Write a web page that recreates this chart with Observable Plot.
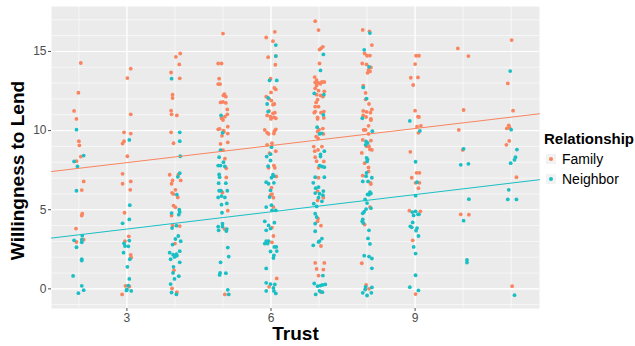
<!DOCTYPE html>
<html><head><meta charset="utf-8">
<script src="https://cdn.jsdelivr.net/npm/d3@7"></script>
<script src="https://cdn.jsdelivr.net/npm/@observablehq/plot@0.6"></script>
<style>
body{margin:0;background:#fff;}
#wrap{position:relative;width:635px;height:346px;font-family:"Liberation Sans",Arial,sans-serif;}
.leg{position:absolute;color:#000;white-space:nowrap;line-height:1;}
.key{position:absolute;width:10px;height:10px;background:#F2F2F2;}
.kdot{position:absolute;width:4px;height:4px;border-radius:50%;left:3px;top:3px;}
</style></head><body><div id="wrap"></div>
<script>
const groups = ["Family", "Neighbor"];
const groupColors = ["#F9845F", "#19BFC4"];
const legendTitle = "Relationship";
const xTitle = "Trust";
const yTitle = "Willingness to Lend";
const xTicks = [3, 6, 9];
const yTicks = [0, 5, 10, 15];
const xGrid = [2, 3, 4, 5, 6, 7, 8, 9, 10, 11];
const yGrid = [-1, 0, 1, 2, 3, 4, 5, 6, 7, 8, 9, 10, 11, 12, 13, 14, 15, 16, 17];
const xDomain = [1.43, 11.59];
const yDomain = [-1.24, 17.84];
const fitIntercept = [6.90, 2.69];
const fitSlope = [0.359, 0.363];

// [trust (jittered), willingness (jittered)]
const familyPoints = [
[2.04,14.27],[3.08,13.91],[3.01,13.32],[1.99,12.39],[1.90,11.24],[3.08,11.03],[1.95,10.74],[2.94,9.89],[3.08,9.81],[2.00,9.33],[2.94,9.33],[2.91,9.18],[2.01,9.07],[3.01,8.38],[2.04,8.36],[1.95,8.07],[2.91,7.27],[2.10,6.79],[2.91,6.64],[3.08,6.79],[2.06,6.24],[3.07,6.26],[2.07,4.75],[2.06,4.63],[2.95,4.81],[1.94,3.81],[1.95,2.96],[2.10,3.11],[3.04,3.32],[2.96,3.02],[3.08,2.14],[3.09,1.98],[2.97,0.19],[3.05,0.15],[2.90,-0.35],
[5.00,16.13],[4.11,14.87],[4.02,14.66],[4.09,14.18],[4.90,14.24],[4.97,14.24],[3.92,13.67],[4.10,13.30],[4.92,13.28],[4.90,12.94],[4.94,12.94],[3.95,12.27],[3.95,12.06],[5.03,12.31],[5.01,12.22],[5.06,12.14],[4.95,11.78],[5.00,11.81],[5.06,11.75],[3.92,11.26],[3.93,11.03],[4.04,10.96],[5.09,11.34],[5.09,11.03],[5.04,10.88],[4.97,10.78],[5.00,10.67],[5.10,10.25],[4.90,10.08],[4.93,10.11],[3.92,9.89],[5.01,10.00],[5.02,9.92],[5.10,9.81],[4.98,9.67],[3.97,9.20],[4.95,9.16],[5.10,9.26],[5.00,8.76],[5.04,8.22],[5.07,7.62],[3.89,7.21],[4.07,7.21],[5.07,7.04],[3.95,6.85],[4.12,6.85],[3.93,6.64],[4.01,6.26],[3.94,6.07],[3.97,5.99],[4.06,5.78],[4.99,6.09],[3.97,5.26],[4.01,5.15],[3.93,4.63],[5.10,4.94],[3.95,3.99],[4.10,3.97],[5.03,3.78],[4.00,2.86],[3.98,1.18],[3.94,0.03],[4.04,-0.21],[5.04,-0.35],
[6.92,16.91],[6.99,16.35],[6.08,16.24],[5.90,15.88],[6.04,15.65],[7.08,15.29],[7.04,15.19],[7.01,15.12],[5.94,14.64],[6.10,14.71],[7.01,14.24],[6.09,14.16],[6.91,13.38],[5.99,13.28],[6.95,13.19],[6.92,13.04],[6.99,13.02],[7.06,13.07],[7.11,13.07],[7.03,12.96],[6.95,12.85],[6.07,12.69],[6.10,12.60],[6.00,12.41],[6.92,12.67],[6.99,12.52],[7.11,12.48],[6.95,12.27],[7.03,12.22],[7.08,12.14],[5.90,12.14],[5.96,12.00],[6.01,11.89],[6.97,11.95],[6.94,11.78],[6.04,11.64],[6.07,11.68],[6.92,11.51],[6.99,11.51],[5.96,11.24],[6.04,11.09],[6.08,11.13],[6.92,11.20],[6.90,11.13],[7.10,11.20],[7.04,11.13],[5.92,10.96],[5.99,10.88],[6.06,10.84],[6.10,10.78],[6.00,10.74],[6.97,10.84],[6.97,10.74],[7.10,10.80],[5.87,10.04],[5.92,9.87],[5.95,9.79],[6.07,9.96],[6.10,10.08],[6.06,9.81],[7.00,10.06],[7.08,10.13],[6.97,9.94],[6.94,9.62],[7.09,9.79],[6.98,9.50],[5.92,9.10],[6.02,9.20],[6.89,8.99],[7.06,8.99],[6.10,8.70],[6.91,8.70],[6.98,8.78],[5.97,8.57],[5.95,7.65],[6.06,7.79],[6.08,7.65],[6.92,8.32],[6.95,8.07],[7.10,8.05],[6.99,7.65],[6.11,7.10],[6.99,7.02],[6.97,6.18],[6.01,6.39],[5.99,5.92],[6.02,5.99],[6.05,5.76],[7.09,5.76],[6.97,5.59],[6.05,5.17],[6.98,4.44],[6.97,4.27],[7.04,3.99],[6.02,3.87],[6.05,3.34],[6.02,2.94],[7.04,2.71],[6.92,1.64],[7.11,1.64],[6.95,1.26],[7.09,1.22],[6.99,0.84],[6.12,0.66],[5.96,0.13],[7.04,-0.21],
[7.91,16.36],[8.05,16.26],[8.10,15.40],[7.95,14.87],[8.00,14.73],[8.06,14.74],[9.02,14.73],[9.08,14.73],[7.90,14.24],[7.99,14.18],[9.00,14.20],[8.08,13.99],[8.03,13.84],[8.06,13.74],[8.01,13.65],[8.91,13.34],[9.06,13.36],[8.96,12.88],[7.92,12.84],[7.97,12.38],[7.97,11.97],[8.04,11.68],[8.10,11.34],[7.92,11.24],[7.99,11.18],[8.07,11.13],[9.00,11.26],[7.92,10.96],[7.98,10.86],[8.08,10.74],[8.08,10.67],[9.06,10.88],[9.08,10.86],[8.03,10.30],[7.93,10.04],[7.97,10.04],[9.04,10.25],[9.12,10.30],[9.07,9.86],[8.03,9.79],[7.91,9.41],[8.08,9.37],[8.04,9.01],[7.99,9.01],[8.06,8.82],[8.10,8.78],[7.89,8.59],[8.90,8.66],[7.95,7.94],[8.03,7.67],[8.03,7.42],[7.91,7.16],[9.03,7.33],[9.09,7.33],[8.93,7.02],[8.07,6.70],[8.08,6.62],[9.01,6.70],[9.09,6.70],[9.07,6.36],[8.06,5.17],[8.88,4.94],[9.11,4.90],[7.95,4.06],[8.95,3.07],[7.89,1.62],[7.98,0.25],[8.04,0.00],[9.01,-0.33],
[11.01,15.72],[9.89,15.19],[10.11,14.71],[10.93,12.98],[10.01,11.30],[11.04,11.26],[9.91,10.04],[10.95,10.33],[10.91,10.14],[10.97,10.17],[10.96,9.35],[10.90,9.10],[9.99,8.78],[11.11,7.06],[9.95,4.71],[10.12,4.69],[11.02,0.17]
];

const neighborPoints = [
[1.95,10.06],[3.05,9.41],[2.10,8.42],[1.90,8.05],[1.97,7.73],[1.95,6.20],[3.06,5.29],[2.91,4.14],[3.05,4.39],[2.07,3.36],[1.90,3.07],[2.06,2.94],[2.06,3.11],[1.95,2.63],[3.05,3.05],[2.94,2.88],[2.96,2.71],[3.03,2.69],[2.93,2.29],[3.06,1.87],[2.06,1.87],[2.06,1.79],[3.01,1.39],[1.88,0.82],[3.05,0.63],[2.06,0.19],[3.03,0.21],[2.10,-0.08],[3.00,-0.04],[3.09,-0.13],[2.99,-0.10],[1.99,-0.27],
[3.93,13.28],[4.10,9.89],[4.99,9.86],[4.96,10.96],[4.10,9.33],[4.95,8.76],[4.11,8.38],[4.92,8.32],[5.01,8.00],[4.90,7.79],[4.95,7.79],[5.04,7.73],[4.10,7.31],[4.06,7.08],[4.92,7.23],[4.93,7.06],[4.91,6.68],[5.06,6.68],[4.04,5.95],[4.92,6.20],[4.96,6.20],[5.09,6.20],[4.97,5.86],[4.90,5.78],[5.04,5.78],[5.08,5.40],[4.97,5.32],[4.09,5.00],[4.10,4.85],[3.93,4.79],[4.08,4.69],[4.98,4.81],[3.94,3.84],[4.03,3.99],[4.99,4.12],[4.90,3.93],[4.99,3.93],[5.08,3.78],[5.07,3.65],[4.91,3.70],[4.07,3.34],[4.01,3.15],[4.12,3.01],[3.95,2.80],[5.10,2.61],[4.10,2.38],[3.89,2.29],[3.96,2.17],[4.00,2.06],[4.04,2.10],[4.03,2.19],[3.91,1.87],[3.99,2.02],[5.12,2.04],[4.10,1.68],[4.95,1.68],[3.97,1.39],[3.96,1.01],[4.08,0.80],[3.99,0.63],[4.94,1.01],[4.93,0.88],[5.06,0.99],[3.91,0.30],[3.93,-0.23],[4.03,-0.35],[5.10,-0.06],[5.12,-0.35],
[6.10,15.40],[7.09,14.81],[6.10,14.71],[7.03,13.80],[5.97,13.17],[6.12,13.17],[6.90,12.35],[7.10,12.27],[5.94,12.06],[5.92,11.68],[5.94,11.20],[7.09,10.99],[6.96,10.21],[7.05,9.83],[7.01,9.79],[6.01,8.95],[7.11,8.70],[5.99,8.51],[7.03,8.49],[5.91,8.36],[5.99,8.11],[5.94,7.75],[7.03,8.36],[7.01,7.79],[7.06,7.73],[7.11,7.69],[6.04,7.21],[6.06,7.12],[6.01,7.02],[6.92,7.06],[7.11,7.06],[5.90,6.74],[6.06,6.70],[5.95,6.64],[6.88,6.70],[6.99,6.43],[6.93,6.36],[5.99,6.22],[6.92,6.05],[7.09,6.18],[7.01,6.01],[7.08,5.92],[5.97,5.80],[6.99,5.76],[7.06,5.53],[6.01,5.29],[5.90,5.17],[6.10,4.96],[6.02,4.96],[6.89,5.38],[6.95,5.21],[6.92,4.75],[6.95,4.54],[6.92,4.12],[5.87,4.27],[6.07,4.18],[5.95,4.01],[5.99,3.81],[5.90,3.70],[6.92,3.64],[5.90,3.02],[5.95,3.02],[5.87,2.86],[5.93,2.86],[6.07,2.65],[6.11,2.65],[5.99,2.36],[6.12,2.39],[6.06,2.12],[6.05,1.95],[7.06,3.18],[7.01,3.02],[6.99,2.96],[6.88,2.75],[5.90,1.29],[7.08,0.84],[5.90,0.38],[5.99,0.30],[6.08,0.28],[6.05,0.06],[5.90,-0.13],[6.06,-0.13],[6.10,-0.29],[6.90,0.34],[6.97,0.17],[7.03,0.21],[7.07,0.25],[7.13,0.28],[7.01,-0.13],[7.07,-0.21],[6.93,-0.35],
[8.06,16.16],[7.94,15.10],[8.04,14.03],[7.92,12.73],[7.99,12.02],[7.90,10.78],[8.89,10.61],[8.11,9.96],[9.10,9.98],[7.98,9.31],[8.01,9.22],[7.97,9.10],[7.99,8.28],[8.01,8.17],[8.00,8.05],[9.01,8.03],[7.99,7.33],[7.98,7.12],[8.10,7.02],[7.91,6.79],[8.02,6.79],[9.04,6.74],[8.06,6.11],[8.08,6.03],[8.01,5.97],[8.04,5.95],[9.01,5.89],[7.96,5.65],[8.00,5.42],[7.98,5.04],[8.08,5.10],[7.94,4.88],[7.91,4.77],[8.94,4.85],[9.01,4.90],[9.06,4.71],[9.08,4.71],[8.97,4.64],[7.91,4.39],[7.90,4.27],[7.92,4.16],[8.95,4.20],[8.90,3.95],[8.93,3.89],[9.04,3.84],[9.02,3.68],[8.04,3.70],[8.02,3.19],[9.07,3.34],[8.06,2.84],[8.97,2.65],[9.01,2.23],[7.94,2.10],[8.04,2.04],[8.10,1.92],[8.10,1.30],[9.01,0.86],[7.97,0.13],[8.10,0.09],[7.96,-0.04],[7.91,-0.25],[8.09,-0.25],[8.00,-0.42],[8.89,0.11],[9.07,-0.10],
[10.98,13.76],[11.00,10.06],[10.01,8.85],[11.12,8.80],[11.09,8.32],[11.07,8.15],[10.99,7.94],[9.95,7.84],[10.11,7.90],[10.95,6.26],[10.12,5.67],[10.93,5.65],[11.11,5.65],[10.01,4.31],[10.08,1.83],[10.08,1.66],[11.07,-0.40]
];

const points = [
  ...familyPoints.map(([trust, will]) => ({trust, will, rel: groups[0]})),
  ...neighborPoints.map(([trust, will]) => ({trust, will, rel: groups[1]}))
];
const fits = groups.flatMap((g, i) => xDomain.map(x => ({trust: x, will: fitIntercept[i] + fitSlope[i] * x, rel: g})));

const chart = Plot.plot({
  width: 635, height: 346,
  marginLeft: 51, marginRight: 96, marginTop: 6, marginBottom: 38,
  style: {fontFamily: "Liberation Sans, Arial, sans-serif", background: "#fff", color: "#000"},
  x: {domain: xDomain},
  y: {domain: yDomain},
  color: {domain: groups, range: groupColors},
  marks: [
    Plot.frame({fill: "#EBEBEB", stroke: "none"}),
    Plot.ruleX(xGrid, {stroke: "#fff", strokeWidth: 0.6}),
    Plot.ruleY(yGrid, {stroke: "#fff", strokeWidth: 0.6}),
    Plot.ruleX(xTicks, {stroke: "#fff", strokeWidth: 1.1}),
    Plot.ruleY(yTicks, {stroke: "#fff", strokeWidth: 1.1}),
    Plot.axisX({ticks: xTicks, tickSize: 3, tickPadding: 2, fontSize: 12, color: "#4D4D4D", label: null}),
    Plot.axisY({ticks: yTicks, tickSize: 3, tickPadding: 2, fontSize: 12, color: "#4D4D4D", label: null}),
    Plot.dot(points, {x: "trust", y: "will", fill: "rel", r: 1.9, stroke: "none"}),
    Plot.line(fits, {x: "trust", y: "will", stroke: "rel", z: "rel", strokeWidth: 1}),
    Plot.text([xTitle], {frameAnchor: "bottom", lineAnchor: "middle", textAnchor: "middle", dy: 25, fontSize: 19, fontWeight: "bold", fill: "#000"}),
    Plot.text([yTitle], {frameAnchor: "left", lineAnchor: "middle", textAnchor: "middle", dx: -34, dy: 13, rotate: -90, fontSize: 19, fontWeight: "bold", fill: "#000"})
  ]
});
const wrap = document.getElementById("wrap");
wrap.appendChild(chart);

function addDiv(cls, text, css) {
  const d = document.createElement("div");
  d.className = cls;
  if (text) d.textContent = text;
  Object.assign(d.style, css);
  wrap.appendChild(d);
  return d;
}
addDiv("leg", legendTitle, {left: "544px", top: "131px", fontSize: "15px", fontWeight: "bold"});
groups.forEach((g, i) => {
  const cy = 159 + i * 20;
  const k = addDiv("key", "", {left: "546px", top: (cy - 5) + "px"});
  const dot = document.createElement("div");
  dot.className = "kdot";
  dot.style.background = groupColors[i];
  k.appendChild(dot);
  addDiv("leg", g, {left: "562px", top: (cy - 7) + "px", fontSize: "14px"});
});
</script></body></html>
